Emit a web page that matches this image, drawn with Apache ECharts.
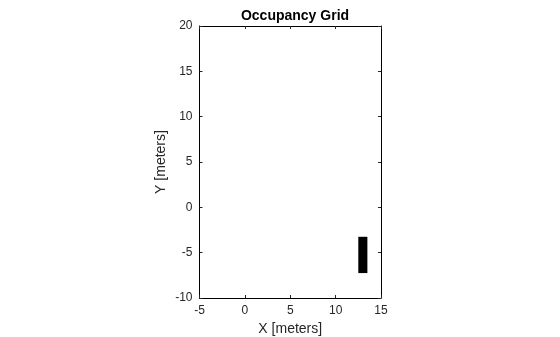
<!DOCTYPE html>
<html><head><meta charset="utf-8">
<script src="https://cdn.jsdelivr.net/npm/echarts@6/dist/echarts.min.js"></script>
<style>html,body{margin:0;padding:0;background:#fff}#c{width:560px;height:337px}</style>
</head><body><div id="c"></div>
<script>
const titleText = "Occupancy Grid";
const xLabel = "X [meters]";
const yLabel = "Y [meters]";
const xRange = [-5, 15];
const yRange = [-10, 20];
const xTickStep = 5;
const yTickStep = 5;
// occupied cells: [xMin, xMax, yMin, yMax]
const occX0 = [12.5];
const occX1 = [13.5];
const occY0 = [-7.25];
const occY1 = [-3.25];

const chart = echarts.init(document.getElementById('c'), null, {renderer:'canvas'});
const font = 'Arial, "Liberation Sans", Helvetica, sans-serif';
const data = occX0.map((v,i)=>[occX0[i], occX1[i], occY0[i], occY1[i]]);
const axisCommon = {
  axisLine:{show:true, onZero:false, lineStyle:{color:'#000', width:1}},
  axisTick:{show:true, inside:true, length:3, lineStyle:{color:'#262626', width:1}},
  splitLine:{show:false}
};
chart.setOption({
  animation:false,
  title:{text:titleText, left:290, top:4, textAlign:'center',
    textStyle:{fontFamily:font, fontSize:14, fontWeight:'bold', color:'#000'}},
  grid:{left:199.5, top:26, width:181.5, height:272, containLabel:false, outerBoundsMode:'none'},
  xAxis:[
    Object.assign({type:'value', position:'bottom', min:xRange[0], max:xRange[1], interval:xTickStep,
      name:xLabel, nameLocation:'middle', nameGap:24,
      nameTextStyle:{fontFamily:font, fontSize:14, color:'#262626'},
      axisLabel:{fontFamily:font, fontSize:12, color:'#262626', margin:7}}, axisCommon),
    Object.assign({type:'value', position:'top', min:xRange[0], max:xRange[1], interval:xTickStep,
      axisLabel:{show:false}}, axisCommon)
  ],
  yAxis:[
    Object.assign({type:'value', position:'left', min:yRange[0], max:yRange[1], interval:yTickStep,
      name:yLabel, nameLocation:'middle', nameGap:31, nameRotate:90,
      nameTextStyle:{fontFamily:font, fontSize:14, color:'#262626'},
      axisLabel:{fontFamily:font, fontSize:12, color:'#262626', margin:7}}, axisCommon),
    Object.assign({type:'value', position:'right', min:yRange[0], max:yRange[1], interval:yTickStep,
      axisLabel:{show:false}}, axisCommon)
  ],
  series:[{
    type:'custom', xAxisIndex:0, yAxisIndex:0,
    data:data,
    encode:{x:[0,1], y:[2,3]},
    renderItem:function(params, api){
      const p0 = api.coord([api.value(0), api.value(3)]);
      const p1 = api.coord([api.value(1), api.value(2)]);
      return {type:'rect', shape:{x:p0[0], y:p0[1], width:p1[0]-p0[0], height:p1[1]-p0[1]},
        style:{fill:'#000'}};
    }
  }]
});
</script></body></html>
